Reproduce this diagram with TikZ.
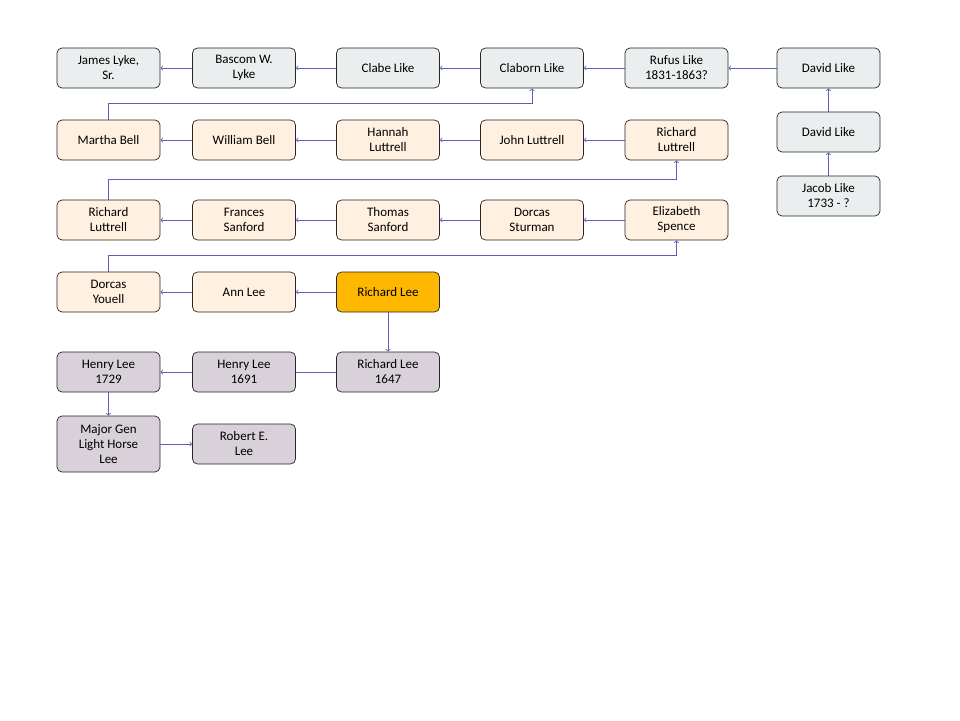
\documentclass[tikz,border=0pt]{standalone}
\usepackage{fontspec}
\setmainfont{Carlito}
\begin{document}
\begin{tikzpicture}[x=1pt,y=-1pt,
  box/.style={draw=black!85,rounded corners=5pt,minimum width=103pt,minimum height=40pt,align=center,font=\fontsize{13}{15}\selectfont,inner sep=1pt,line width=0.7pt},
  bl/.style={box,fill=blue!5!cyan!10!gray!15},
  pe/.style={box,fill=orange!12},
  go/.style={box,fill=orange!40!yellow!90!red},
  la/.style={box,fill=violet!20!gray!30},
  c/.style={draw=blue!40!gray!90,line width=0.8pt},
  a/.style={c,-to}]
\useasboundingbox (0,0) rectangle (960,720);
\node[bl] (jl) at (108.5,68) {James Lyke,\\Sr.};
\node[bl] (bw) at (244,68) {Bascom W.\\Lyke};
\node[bl] (cl) at (388,68) {Clabe Like};
\node[bl] (cb) at (532,68) {Claborn Like};
\node[bl] (rf) at (676.5,68) {Rufus Like\\1831-1863?};
\node[bl] (d1) at (828.5,68) {David Like};
\node[bl] (d2) at (828.5,132) {David Like};
\node[bl] (jk) at (828.5,196) {Jacob Like\\1733 - ?};
\node[pe] (mb) at (108.5,140) {Martha Bell};
\node[pe] (wb) at (244,140) {William Bell};
\node[pe] (hl) at (388,140) {Hannah\\Luttrell};
\node[pe] (jo) at (532,140) {John Luttrell};
\node[pe] (rl1) at (676.5,140) {Richard\\Luttrell};
\node[pe] (rl2) at (108.5,220) {Richard\\Luttrell};
\node[pe] (fs) at (244,220) {Frances\\Sanford};
\node[pe] (ts) at (388,220) {Thomas\\Sanford};
\node[pe] (ds) at (532,220) {Dorcas\\Sturman};
\node[pe] (es) at (676.5,220) {Elizabeth\\Spence};
\node[pe] (dy) at (108.5,292) {Dorcas\\Youell};
\node[pe] (al) at (244,292) {Ann Lee};
\node[go] (rlee) at (388,292) {Richard Lee};
\node[la] (h29) at (108.5,372) {Henry Lee\\1729};
\node[la] (h91) at (244,372) {Henry Lee\\1691};
\node[la] (r47) at (388,372) {Richard Lee\\1647};
\node[la,minimum height=56pt] (mg) at (108.5,444) {Major Gen\\Light Horse\\Lee};
\node[la] (re) at (244,444) {Robert E.\\Lee};
\draw[a] (bw) -- (jl);
\draw[a] (cl) -- (bw);
\draw[a] (cb) -- (cl);
\draw[a] (rf) -- (cb);
\draw[a] (d1) -- (rf);
\draw[a] (d2) -- (d1);
\draw[a] (jk) -- (d2);
\draw[a] (wb) -- (mb);
\draw[a] (hl) -- (wb);
\draw[a] (jo) -- (hl);
\draw[a] (rl1) -- (jo);
\draw[a] (fs) -- (rl2);
\draw[a] (ts) -- (fs);
\draw[a] (ds) -- (ts);
\draw[a] (es) -- (ds);
\draw[a] (al) -- (dy);
\draw[a] (rlee) -- (al);
\draw[a] (rlee) -- (r47);
\draw[c] (r47) -- (h91);
\draw[a] (h91) -- (h29);
\draw[a] (h29) -- (mg);
\draw[a] (mg) -- (re);
\draw[a] (mb.north) -- ++(0,-16) -| (cb.south);
\draw[a] (rl2.north) -- ++(0,-20) -| (rl1.south);
\draw[a] (dy.north) -- ++(0,-16) -| (es.south);
\end{tikzpicture}
\end{document}
